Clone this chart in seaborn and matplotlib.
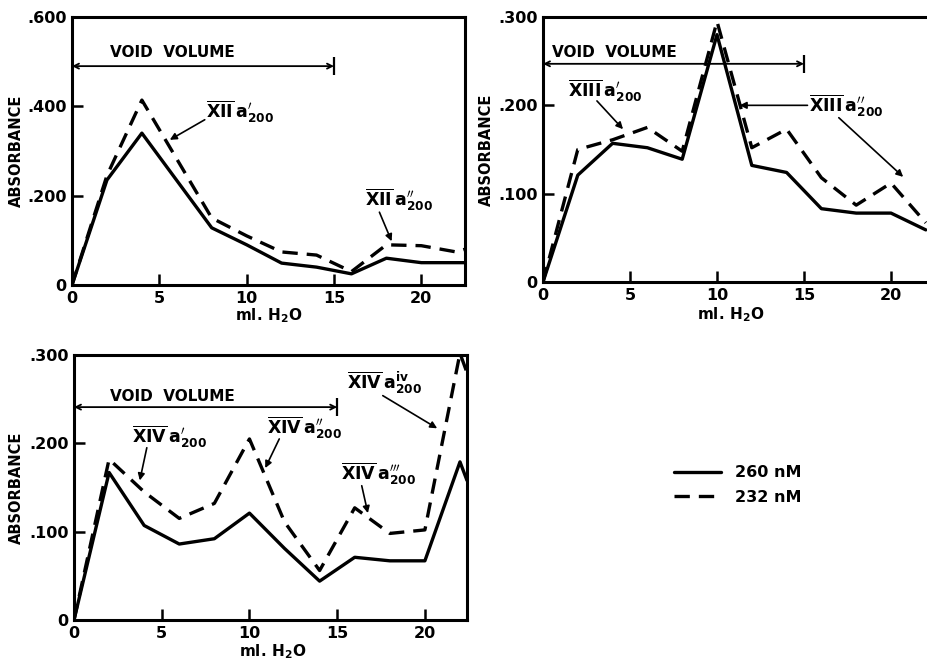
import matplotlib
matplotlib.use("Agg")
import matplotlib.pyplot as plt
import seaborn as sns
import pandas as pd

# ---------------- data ----------------
p1_x = [0, 2, 4, 8, 10, 12, 14, 16, 18, 20, 22, 22.5]
p1_260 = [0, 0.235, 0.34, 0.128, 0.09, 0.049, 0.04, 0.025, 0.06, 0.05, 0.05, 0.05]
p1_232 = [0, 0.245, 0.414, 0.15, 0.11, 0.074, 0.067, 0.03, 0.09, 0.088, 0.074, 0.08]

p2_x = [0, 2, 4, 6, 8, 10, 12, 14, 16, 18, 20, 22]
p2_260 = [0, 0.121, 0.157, 0.152, 0.139, 0.28, 0.132, 0.124, 0.083, 0.078, 0.078, 0.059]
p2_232 = [0, 0.15, 0.161, 0.175, 0.148, 0.295, 0.152, 0.173, 0.118, 0.087, 0.112, 0.067]

p3_x = [0, 2, 4, 6, 8, 10, 12, 14, 16, 18, 20, 22, 22.4]
p3_260 = [0, 0.167, 0.107, 0.086, 0.092, 0.121, 0.081, 0.044, 0.071, 0.067, 0.067, 0.179, 0.158]
p3_232 = [0, 0.182, 0.145, 0.115, 0.132, 0.205, 0.111, 0.056, 0.127, 0.098, 0.102, 0.302, 0.28]

series_names = ["260 nM", "232 nM"]
x_ticks = [0, 5, 10, 15, 20]
x_tick_labels = ["0", "5", "10", "15", "20"]
p1_y_ticks = [0, 0.2, 0.4, 0.6]
p1_y_tick_labels = ["0", ".200", ".400", ".600"]
p23_y_ticks = [0, 0.1, 0.2, 0.3]
p23_y_tick_labels = ["0", ".100", ".200", ".300"]
void_volume_end = 15

# ---------------- style ----------------
sns.set_theme(style="ticks")
plt.rcParams['font.family'] = ['DejaVu Sans']
plt.rcParams['font.weight'] = 'bold'
plt.rcParams['mathtext.fontset'] = 'dejavusans'
plt.rcParams['mathtext.default'] = 'bf'
plt.rcParams['text.color'] = 'black'
plt.rcParams['axes.labelcolor'] = 'black'
plt.rcParams['xtick.color'] = 'black'
plt.rcParams['ytick.color'] = 'black'

W, H = 927, 661
fig = plt.figure(figsize=(W / 100, H / 100), dpi=100)
fig.patch.set_facecolor('white')


def px_axes(left, right, top, bottom):
    return fig.add_axes([left / W, 1 - bottom / H, (right - left) / W, (bottom - top) / H])


def make_df(x, a, b):
    return pd.concat([
        pd.DataFrame({"ml": x, "abs": a, "wl": series_names[0]}),
        pd.DataFrame({"ml": x, "abs": b, "wl": series_names[1]}),
    ], ignore_index=True)


def draw_panel(ax, x, a, b, xmax, ymax, yt, ytl, void_y, void_txt, ylab_x, xlab_pos):
    df = make_df(x, a, b)
    sns.lineplot(data=df, x="ml", y="abs", style="wl",
                 dashes={series_names[0]: "", series_names[1]: (4.6, 2.7)},
                 color="black", lw=2.4, ax=ax, legend=False, sort=False,
                 estimator=None)
    ax.set_xlim(0, xmax)
    ax.set_ylim(0, ymax)
    ax.set_xticks(x_ticks)
    ax.set_xticklabels(x_tick_labels)
    ax.set_yticks(yt)
    ax.set_yticklabels(ytl)
    for s in ax.spines.values():
        s.set_linewidth(2.2)
        s.set_color("black")
    ax.tick_params(direction="in", length=8, width=1.8, labelsize=11.5,
                   pad=4, colors="black")
    ax.set_ylabel("ABSORBANCE", fontsize=10.5, fontweight="bold")
    ax.set_xlabel("ml. H$_2$O", fontsize=11, fontweight="bold")
    ax.yaxis.set_label_coords(ylab_x, 0.5)
    ax.xaxis.set_label_coords(*xlab_pos)
    # void volume arrow
    ax.annotate("", xy=(0, void_y), xytext=(void_volume_end, void_y),
                arrowprops=dict(arrowstyle="<->", lw=1.3, color="black",
                                shrinkA=0, shrinkB=0, mutation_scale=9))
    ax.plot([void_volume_end], [void_y], marker="|", ms=13, mew=1.6, color="black")
    ax.text(void_txt[0], void_txt[1], "VOID  VOLUME", fontsize=11,
            fontweight="bold", ha="left", va="center")


def label(ax, txt, pos, arrows, fs=12.5):
    ax.text(pos[0], pos[1], txt, fontsize=fs, ha="left", va="center")
    for tail, head in arrows:
        ax.annotate("", xy=head, xytext=tail,
                    arrowprops=dict(arrowstyle="-|>", lw=1.2, color="black",
                                    shrinkA=0, shrinkB=0, mutation_scale=10))


# Panel 1 (top-left)
ax1 = px_axes(72, 465, 17, 285)
draw_panel(ax1, p1_x, p1_260, p1_232, 22.5, 0.6, p1_y_ticks, p1_y_tick_labels,
           0.49, (2.2, 0.52), -0.122, (0.5, -0.078))
label(ax1, r"$\overline{\mathrm{XII}}\,a^{\prime}_{200}$", (7.7, 0.387),
      [((7.6, 0.37), (5.6, 0.325))])
label(ax1, r"$\overline{\mathrm{XII}}\,a^{\prime\prime}_{200}$", (16.8, 0.19),
      [((17.6, 0.163), (18.3, 0.098))])

# Panel 2 (top-right, cropped at the right edge)
ax2 = px_axes(543, 543 + 22.5 * 17.4, 17, 282)
draw_panel(ax2, p2_x, p2_260, p2_232, 22.5, 0.3, p23_y_ticks, p23_y_tick_labels,
           0.247, (0.5, 0.26), -0.125, (0.478, -0.088))
label(ax2, r"$\overline{\mathrm{XIII}}\,a^{\prime}_{200}$", (1.44, 0.216),
      [((3.1, 0.205), (4.6, 0.173))])
label(ax2, r"$\overline{\mathrm{XIII}}\,a^{\prime\prime}_{200}$", (15.3, 0.199),
      [((15.2, 0.2), (11.3, 0.2)), ((17.0, 0.186), (20.7, 0.119))])

# Panel 3 (bottom-left)
ax3 = px_axes(74, 467, 355, 620)
draw_panel(ax3, p3_x, p3_260, p3_232, 22.4, 0.3, p23_y_ticks, p23_y_tick_labels,
           0.241, (2.05, 0.253), -0.127, (0.506, -0.084))
label(ax3, r"$\overline{\mathrm{XIV}}\,a^{\prime}_{200}$", (3.3, 0.207),
      [((4.15, 0.195), (3.75, 0.158))])
label(ax3, r"$\overline{\mathrm{XIV}}\,a^{\prime\prime}_{200}$", (11.0, 0.217),
      [((11.7, 0.205), (10.9, 0.172))])
label(ax3, r"$\overline{\mathrm{XIV}}\,a^{\prime\prime\prime}_{200}$", (15.2, 0.166),
      [((16.4, 0.152), (16.75, 0.121))])
label(ax3, r"$\overline{\mathrm{XIV}}\,a^{iv}_{200}$", (15.55, 0.268),
      [((17.6, 0.254), (20.7, 0.217))])

# Legend (figure level)
handles = ax3.get_lines()[:2]
leg = fig.legend(handles, series_names, loc="upper left",
                 bbox_to_anchor=(660 / W, 1 - 451 / H), frameon=False,
                 fontsize=11.5, handlelength=2.9, handletextpad=0.9,
                 labelspacing=0.6)
for t in leg.get_texts():
    t.set_fontweight("bold")
    t.set_color("black")

fig.savefig("out.png", dpi=100, facecolor="white")
